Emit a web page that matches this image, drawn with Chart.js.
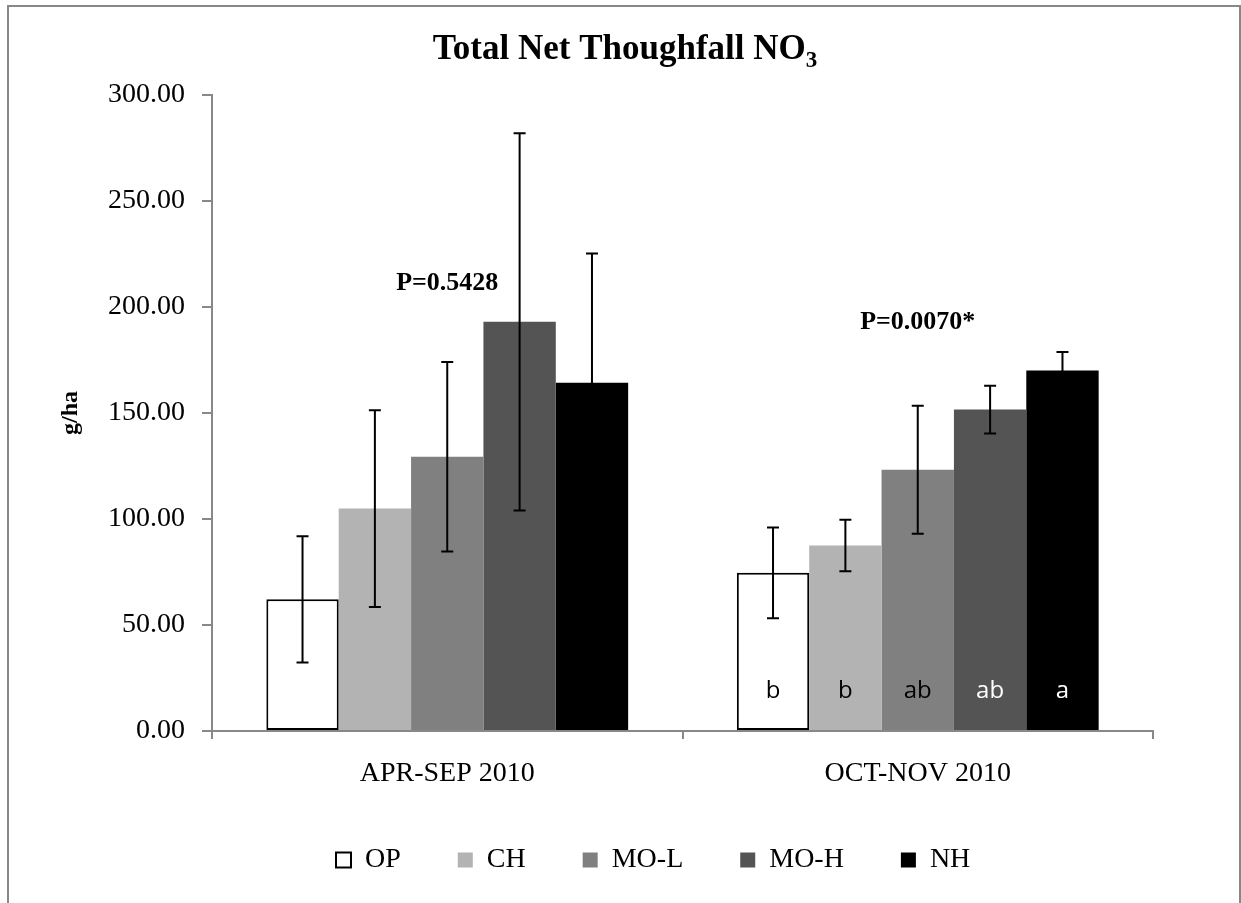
<!DOCTYPE html>
<html>
<head>
<meta charset="utf-8">
<script src="https://cdn.jsdelivr.net/npm/chart.js@4/dist/chart.umd.min.js"></script>
<style>
    html, body { margin: 0; padding: 0; background: #fff; overflow: hidden; }
    #wrap { position: relative; width: 1241px; height: 903px; }
    #frame { position: absolute; left: 7px; top: 5px; width: 1234px; height: 1000px;
             border: 2px solid #888; box-sizing: border-box; }
    canvas { position: absolute; left: 0; top: 0; }
</style>
</head>
<body>
<div id="wrap">
    <div id="frame"></div>
    <canvas id="chart" width="1241" height="903"></canvas>
</div>
<script>
        const categories = ['APR-SEP 2010', 'OCT-NOV 2010'];
        const seriesNames = ['OP', 'CH', 'MO-L', 'MO-H', 'NH'];

        // means (g/ha) per period
        const opValues = [62.1, 74.6];
        const chValues = [104.9, 87.5];
        const moLValues = [129.4, 123.2];
        const moHValues = [193.0, 151.6];
        const nhValues = [164.3, 170.0];

        // +/- error per period
        const opErrors = [29.8, 21.4];
        const chErrors = [46.4, 12.2];
        const moLErrors = [44.7, 30.2];
        const moHErrors = [89.0, 11.3];
        const nhErrors = [60.9, 8.8];

        const yMin = 0;
        const yMax = 300;
        const yStep = 50;

        const pValueLabels = ['P=0.5428', 'P=0.0070*'];
        const pValueLevels = [211, 193];
        // letters for the OCT-NOV group only
        const groupLetters = ['b', 'b', 'ab', 'ab', 'a'];
        const letterLevel = 19;

        const allValues = [opValues, chValues, moLValues, moHValues, nhValues];
        const allErrors = [opErrors, chErrors, moLErrors, moHErrors, nhErrors];

        const barColors = ['#ffffff', '#b3b3b3', '#808080', '#545454', '#000000'];
        const letterColors = ['#000', '#000', '#000', '#fff', '#fff'];
        const axisColor = '#888888';
        const serif = "'Liberation Serif', 'Times New Roman', serif";

        Chart.defaults.font.family = serif;
        Chart.defaults.color = '#000';

        const errorBarPlugin = {
            id: 'errorBars',
            afterDatasetsDraw(chart) {
                const ctx = chart.ctx;
                const yScale = chart.scales.y;
                const cap = 6;
                ctx.save();
                ctx.strokeStyle = '#000';
                ctx.lineWidth = 2;
                chart.data.datasets.forEach((ds, di) => {
                    const meta = chart.getDatasetMeta(di);
                    meta.data.forEach((bar, i) => {
                        const v = ds.data[i];
                        const e = ds.errors[i];
                        const top = yScale.getPixelForValue(v + e);
                        const bot = yScale.getPixelForValue(v - e);
                        ctx.beginPath();
                        ctx.moveTo(bar.x, top);
                        ctx.lineTo(bar.x, bot);
                        ctx.moveTo(bar.x - cap, top);
                        ctx.lineTo(bar.x + cap, top);
                        ctx.moveTo(bar.x - cap, bot);
                        ctx.lineTo(bar.x + cap, bot);
                        ctx.stroke();
                    });
                });

                // group letters inside OCT-NOV bars
                ctx.font = "24px 'Open Sans', 'Liberation Sans', sans-serif";
                ctx.textAlign = 'center';
                ctx.textBaseline = 'middle';
                chart.data.datasets.forEach((ds, di) => {
                    const bar = chart.getDatasetMeta(di).data[1];
                    ctx.fillStyle = letterColors[di];
                    ctx.fillText(groupLetters[di], bar.x, yScale.getPixelForValue(letterLevel));
                });

                // p-values
                ctx.font = 'bold 26px ' + serif;
                ctx.fillStyle = '#000';
                pValueLabels.forEach((txt, i) => {
                    const x = chart.scales.x.getPixelForValue(i);
                    ctx.fillText(txt, x, yScale.getPixelForValue(pValueLevels[i]));
                });
                ctx.restore();
            }
        };

        const titlePlugin = {
            id: 'subTitle',
            afterDraw(chart) {
                const ctx = chart.ctx;
                const main = 'Total Net Thoughfall NO';
                const sub = '3';
                ctx.save();
                ctx.fillStyle = '#000';
                ctx.textBaseline = 'alphabetic';
                ctx.textAlign = 'left';
                ctx.font = 'bold 35px ' + serif;
                const w1 = ctx.measureText(main).width;
                ctx.font = 'bold 23px ' + serif;
                const w2 = ctx.measureText(sub).width;
                const x0 = 625 - (w1 + w2) / 2;
                ctx.font = 'bold 35px ' + serif;
                ctx.fillText(main, x0, 59);
                ctx.font = 'bold 23px ' + serif;
                ctx.fillText(sub, x0 + w1, 67);
                ctx.restore();
            }
        };

        const legendShiftPlugin = {
            id: 'legendShift',
            afterLayout(chart) {
                const lg = chart.legend;
                if (!lg || !lg.lineWidths) return;
                const pad = lg.options.labels.padding;
                const start = (lg.left + pad + lg.right - lg.lineWidths[0]) / 2;
                const shift = 336 - start;
                lg.left += shift;
                lg.right += shift;
            }
        };

        const datasets = seriesNames.map((name, i) => ({
            label: name,
            data: allValues[i],
            errors: allErrors[i],
            backgroundColor: barColors[i],
            borderColor: '#000',
            borderWidth: i === 0 ? 2 : 0,
            borderSkipped: false
        }));

        new Chart(document.getElementById('chart').getContext('2d'), {
            type: 'bar',
            data: { labels: categories, datasets: datasets },
            plugins: [errorBarPlugin, titlePlugin, legendShiftPlugin],
            options: {
                responsive: false,
                animation: false,
                categoryPercentage: 0.769,
                barPercentage: 1.0,
                layout: { padding: { top: 95, right: 88, bottom: 19, left: 0 } },
                plugins: {
                    title: { display: false },
                    tooltip: { enabled: false },
                    legend: {
                        position: 'bottom',
                        labels: {
                            boxWidth: 15,
                            boxHeight: 15,
                            padding: 57,
                            color: '#000',
                            font: { size: 28 }
                        }
                    }
                },
                scales: {
                    x: {
                        afterFit: (scale) => { scale.height = 58; },
                        grid: {
                            display: true,
                            drawOnChartArea: false,
                            drawTicks: true,
                            tickLength: 8,
                            color: axisColor,
                            lineWidth: 2
                        },
                        border: { color: axisColor, width: 2 },
                        ticks: {
                            padding: 18,
                            color: '#000',
                            font: { size: 28 }
                        }
                    },
                    y: {
                        min: yMin,
                        max: yMax,
                        afterFit: (scale) => { scale.width = 212; },
                        grid: {
                            display: true,
                            drawOnChartArea: false,
                            drawTicks: true,
                            tickLength: 10,
                            color: axisColor,
                            lineWidth: 2
                        },
                        border: { color: axisColor, width: 2 },
                        ticks: {
                            stepSize: yStep,
                            padding: 17,
                            color: '#000',
                            font: { size: 28 },
                            callback: (v) => Number(v).toFixed(2)
                        },
                        title: {
                            display: true,
                            text: 'g/ha',
                            color: '#000',
                            font: { size: 24, weight: 'bold' },
                            padding: { top: 56, bottom: 0 }
                        }
                    }
                }
            }
        });
</script>
</body>
</html>
